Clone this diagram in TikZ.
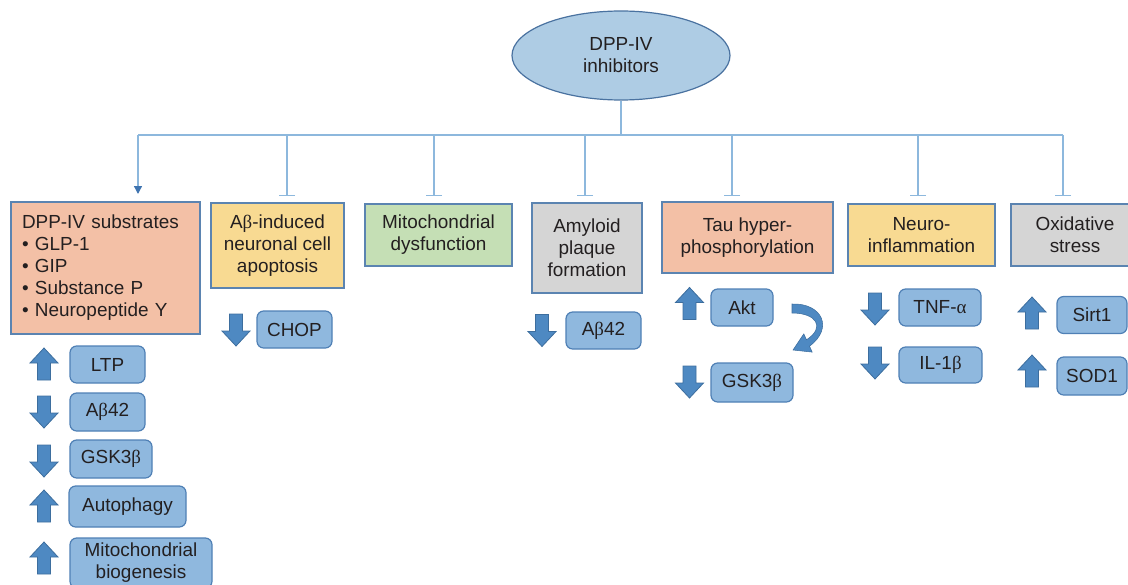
\documentclass[tikz,border=0pt]{standalone}
\usepackage{fontspec}
\setmainfont{Liberation Sans}
\newfontfamily\grk{Liberation Serif}
\usetikzlibrary{shapes.geometric,arrows.meta}
\definecolor{salmon}{HTML}{F3C0A6}
\definecolor{ylw}{HTML}{F8DA92}
\definecolor{grn}{HTML}{C5DFB5}
\definecolor{gry}{HTML}{D5D5D5}
\definecolor{boxborder}{HTML}{5B84B1}
\definecolor{ellfill}{HTML}{AECCE4}
\definecolor{ellborder}{HTML}{4A72A0}
\definecolor{sbfill}{HTML}{8FB8DE}
\definecolor{sbborder}{HTML}{4F80B5}
\definecolor{arrfill}{HTML}{4E89C2}
\definecolor{arrborder}{HTML}{3D6E9E}
\definecolor{linkblue}{HTML}{8DB8DD}
\definecolor{headblue}{HTML}{3F74B0}
\definecolor{txt}{HTML}{231F20}
\begin{document}
\begin{tikzpicture}[x=0.75pt,y=-0.75pt,
  font=\fontsize{14.2pt}{16.5pt}\selectfont, text=txt,
  catbox/.style={draw=boxborder, line width=0.9pt, align=center, inner sep=0pt},
  smallbox/.style={draw=sbborder, fill=sbfill, rounded corners=5pt, line width=0.9pt, align=center, inner sep=0pt},
  link/.style={draw=linkblue, line width=1pt},
  inhib/.style={link, -{Bar[width=12pt, line width=1pt]}},
  activ/.style={link, -{Triangle[width=6pt, length=6pt, color=headblue]}},
  bigarr/.style={fill=arrfill, draw=arrborder, line width=0.6pt, line join=miter},
  uparr/.pic={\path[bigarr] (0,-16) -- (14,-1) -- (6.5,-1) -- (6.5,16) -- (-6.5,16) -- (-6.5,-1) -- (-14,-1) -- cycle;},
  downarr/.pic={\path[bigarr] (0,16) -- (14,1) -- (6.5,1) -- (6.5,-16) -- (-6.5,-16) -- (-6.5,1) -- (-14,1) -- cycle;}
]
\useasboundingbox (0,0) rectangle (1128,585);
\clip (0,0) rectangle (1128,585);

% top ellipse
\node[ellipse, draw=ellborder, fill=ellfill, line width=0.9pt, minimum width=163.5pt, minimum height=66.75pt, inner sep=0pt, align=center] (ell) at (621,55.5) {DPP-IV\\inhibitors};

% branch structure
\coordinate (hub) at (621,135);
\coordinate (t1) at (138,135);
\coordinate (t2) at (287,135);
\coordinate (t3) at (434,135);
\coordinate (t4) at (585,135);
\coordinate (t5) at (732,135);
\coordinate (t6) at (918,135);
\coordinate (t7) at (1063,135);
\coordinate (e1) at (138,194);
\coordinate (e2) at (287,196);
\coordinate (e3) at (434,196);
\coordinate (e4) at (585,196);
\coordinate (e5) at (732,196);
\coordinate (e6) at (918,196);
\coordinate (e7) at (1063,196);
\draw[link] (ell.south) -- (hub);
\draw[link] (t1) -- (t7);
\draw[activ] (t1) -- (e1);
\draw[inhib] (t2) -- (e2);
\draw[inhib] (t3) -- (e3);
\draw[inhib] (t4) -- (e4);
\draw[inhib] (t5) -- (e5);
\draw[inhib] (t6) -- (e6);
\draw[inhib] (t7) -- (e7);

% category boxes
\node[catbox, fill=salmon, minimum height=99pt, text width=125.25pt, inner xsep=8.25pt, align=left] (sub) at (105.5,268)
  {DPP-IV substrates\\ • GLP-1\\ • GIP\\ • Substance P\\ • Neuropeptide Y};
\node[catbox, fill=ylw, minimum width=99.75pt, minimum height=63.75pt] (apo) at (277.5,245.5) {A{\grk β}-induced\\neuronal cell\\apoptosis};
\node[catbox, fill=grn, minimum width=110.25pt, minimum height=46.5pt] (mito) at (438.5,235) {Mitochondrial\\dysfunction};
\node[catbox, fill=gry, minimum width=82.5pt, minimum height=67.5pt] (amy) at (587,248) {Amyloid\\plaque\\formation};
\node[catbox, fill=salmon, minimum width=128.25pt, minimum height=53.25pt] (tau) at (747.5,237.5) {Tau hyper-\\phosphorylation};
\node[catbox, fill=ylw, minimum width=110.25pt, minimum height=46.5pt] (neu) at (921.5,235) {Neuro-\\inflammation};
\node[catbox, fill=gry, minimum width=96pt, minimum height=46.5pt] (oxi) at (1075,235) {Oxidative\\stress};

% small boxes
\node[smallbox, minimum width=56.25pt, minimum height=27.75pt] (ltp) at (107.5,364.5) {LTP};
\node[smallbox, minimum width=56.25pt, minimum height=28.5pt] (ab1) at (107.5,412) {A{\grk β}42};
\node[smallbox, minimum width=61.5pt, minimum height=28.5pt] (gsk1) at (111,459) {GSK3{\grk β}};
\node[smallbox, minimum width=87.75pt, minimum height=30.75pt] (auto) at (127.5,506.5) {Autophagy};
\node[smallbox, minimum width=106.5pt, minimum height=37.5pt] (bio) at (141,563) {Mitochondrial\\biogenesis};
\node[smallbox, minimum width=56.25pt, minimum height=27.75pt] (chop) at (294.5,329.5) {CHOP};
\node[smallbox, minimum width=56.25pt, minimum height=27.75pt] (ab2) at (603.5,330.5) {A{\grk β}42};
\node[smallbox, minimum width=46.5pt, minimum height=27.75pt] (akt) at (742,307.5) {Akt};
\node[smallbox, minimum width=61.5pt, minimum height=29.25pt] (gsk2) at (752,382.5) {GSK3{\grk β}};
\node[smallbox, minimum width=61.5pt, minimum height=27.75pt] (tnf) at (940,307.5) {TNF-{\grk α}};
\node[smallbox, minimum width=62.25pt, minimum height=27pt] (il) at (940.5,365) {IL-1{\grk β}};
\node[smallbox, minimum width=52.5pt, minimum height=27.75pt] (sirt) at (1092,315) {Sirt1};
\node[smallbox, minimum width=52.5pt, minimum height=28.5pt] (sod) at (1092,376) {SOD1};

% big up/down arrows
\pic at (44,364) {uparr};
\pic at (44,412) {downarr};
\pic at (44,461) {downarr};
\pic at (44,506) {uparr};
\pic at (44,558) {uparr};
\pic at (236,330) {downarr};
\pic at (542,330.5) {downarr};
\pic at (689.5,303.5) {uparr};
\pic at (689.5,382) {downarr};
\pic at (875,309) {downarr};
\pic at (875,363) {downarr};
\pic at (1032,313) {uparr};
\pic at (1032,371) {uparr};

% curved arrow from Akt towards GSK3beta
\path[fill=arrfill, draw=arrborder, line width=0.4pt]
  (792,304) .. controls (822,303) and (834,328) .. (809.5,346.2)
  -- (812.2,352.1) -- (793,350) -- (803.8,333.9) -- (806.5,339.8)
  .. controls (826,327) and (816,313) .. (792,313) -- cycle;
\end{tikzpicture}
\end{document}
